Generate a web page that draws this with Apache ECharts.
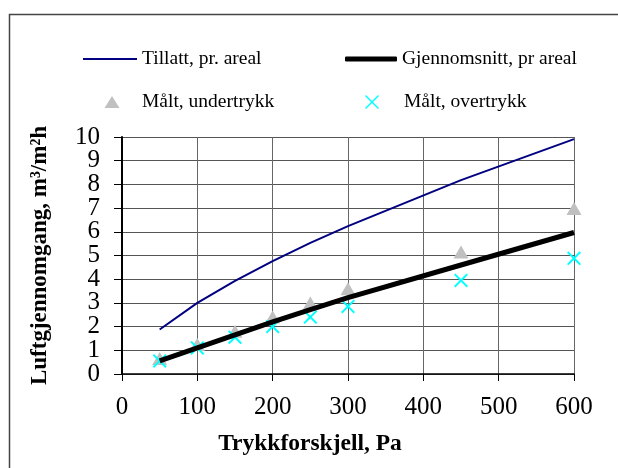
<!DOCTYPE html>
<html>
<head>
<meta charset="utf-8">
<script src="https://cdn.jsdelivr.net/npm/echarts@6/dist/echarts.min.js"></script>
<style>html,body{margin:0;padding:0;background:#fff;}#c{width:618px;height:468px;}</style>
</head>
<body>
<div id="c"></div>
<script>
var pressure = [50, 100, 150, 200, 250, 300, 450, 600];
var tillatt = [1.88, 3.0, 3.93, 4.76, 5.53, 6.24, 8.18, 9.91];
var gjennomsnitt = [0.55, 1.1, 1.65, 2.2, 2.72, 3.22, 4.6, 5.97];
var undertrykk = [0.65, 1.25, 1.8, 2.4, 3.0, 3.6, 5.15, 6.98];
var overtrykk = [0.55, 1.1, 1.55, 2.0, 2.4, 2.85, 3.95, 4.88];
var names = ['Tillatt, pr. areal', 'Gjennomsnitt, pr areal', 'Målt, undertrykk', 'Målt, overtrykk'];

function pairs(xs, ys) { return xs.map(function (x, i) { return [x, ys[i]]; }); }

var crossPath = 'path://M0,1 L1,0 L5,4 L9,0 L10,1 L6,5 L10,9 L9,10 L5,6 L1,10 L0,9 L4,5 Z';
var triPath = 'path://M6,0 L12,10.5 L0,10.5 Z';
// legend icons: shape centred inside a 54-wide box (degenerate corner points fix the box)
var triLegend = 'path://M0,0 L0,0 Z M54,13 L54,13 Z M29,0.5 L36.5,12.5 L21.5,12.5 Z';
var crossLegend = 'path://M0,0 L0,0 Z M54,14 L54,14 Z M20,1 L21,0 L27,6 L33,0 L34,1 L28,7 L34,13 L33,14 L27,8 L21,14 L20,13 L26,7 Z';
var font = '"Liberation Serif", "Times New Roman", serif';
var chart = echarts.init(document.getElementById('c'), null, {renderer: 'canvas'});
function leg(name, left, top, w, h, icon) {
  return {
    data: [{name: name, icon: icon}], left: left, top: top, itemWidth: w, itemHeight: h,
    symbolKeepAspect: false,
    textStyle: {fontFamily: font, fontSize: 19.5, color: '#000'},
    selectedMode: false
  };
}
var yLabelBase = {fontFamily: font, fontSize: 25, color: '#000', margin: 22, hideOverlap: false};
chart.setOption({
  backgroundColor: '#fff',
  animation: false,
  graphic: [{
    type: 'rect', left: 7, top: 12, shape: {width: 640, height: 500},
    style: {fill: 'none', stroke: '#444', lineWidth: 1.5}, silent: true
  }],
  legend: [
    leg(names[0], 78, 44, 54, 2, 'rect'),
    leg(names[1], 340, 44, 52, 5, 'roundRect'),
    leg(names[2], 78, 87, 54, 13, triLegend),
    leg(names[3], 340, 87, 54, 14, crossLegend)
  ],
  grid: {left: 122, top: 137, right: 44, bottom: 94},
  xAxis: {
    type: 'value', min: 0, max: 600, interval: 100,
    name: 'Trykkforskjell, Pa', nameLocation: 'middle', nameGap: 58,
    nameTextStyle: {fontFamily: font, fontSize: 23.5, fontWeight: 'bold', color: '#000', padding: [0, 76, 0, 0]},
    axisLine: {lineStyle: {color: '#000', width: 1.5}},
    axisTick: {show: true, length: 7, lineStyle: {color: '#000'}},
    axisLabel: {fontFamily: font, fontSize: 25, color: '#000', margin: 21, showMinLabel: true, showMaxLabel: true, hideOverlap: false},
    splitLine: {show: true, showMinLine: true, showMaxLine: true, lineStyle: {color: '#666', width: 1}}
  },
  yAxis: [{
    type: 'value', min: 0, max: 10, interval: 1, position: 'left',
    name: 'Luftgjennomgang, m³/m²h', nameLocation: 'middle', nameGap: 70,
    nameTextStyle: {fontFamily: font, fontSize: 23, fontWeight: 'bold', color: '#000'},
    axisLine: {show: true, lineStyle: {color: '#000', width: 2}},
    axisTick: {show: true, length: 8, lineStyle: {color: '#000'}},
    axisLabel: Object.assign({}, yLabelBase, {
      showMinLabel: true, showMaxLabel: true,
      formatter: function (v) { return v % 2 === 0 ? String(v) : ''; }
    }),
    splitLine: {show: true, showMinLine: true, showMaxLine: true, lineStyle: {color: '#555', width: 1}}
  }, {
    type: 'value', min: 0, max: 10, interval: 1, position: 'left', offset: 0,
    axisLine: {show: false}, axisTick: {show: false}, splitLine: {show: false},
    axisLabel: Object.assign({}, yLabelBase, {
      showMinLabel: false, showMaxLabel: false,
      formatter: function (v) { return v % 2 === 1 ? String(v) : ''; }
    })
  }],
  series: [
    {name: names[0], type: 'line', data: pairs(pressure, tillatt), symbol: 'none',
     lineStyle: {color: '#000080', width: 2}, itemStyle: {color: '#000080'}},
    {name: names[2], type: 'scatter', data: pairs(pressure, undertrykk), symbol: triPath,
     symbolSize: [15, 13], itemStyle: {color: '#C0C0C0', opacity: 1}},
    {name: names[1], type: 'line', data: pairs(pressure, gjennomsnitt), symbol: 'none',
     lineStyle: {color: '#000', width: 5}, itemStyle: {color: '#000'}},
    {name: names[3], type: 'scatter', data: pairs(pressure, overtrykk), symbol: crossPath,
     symbolSize: 14, itemStyle: {color: '#00FFFF', opacity: 1}}
  ]
});
</script>
</body>
</html>
